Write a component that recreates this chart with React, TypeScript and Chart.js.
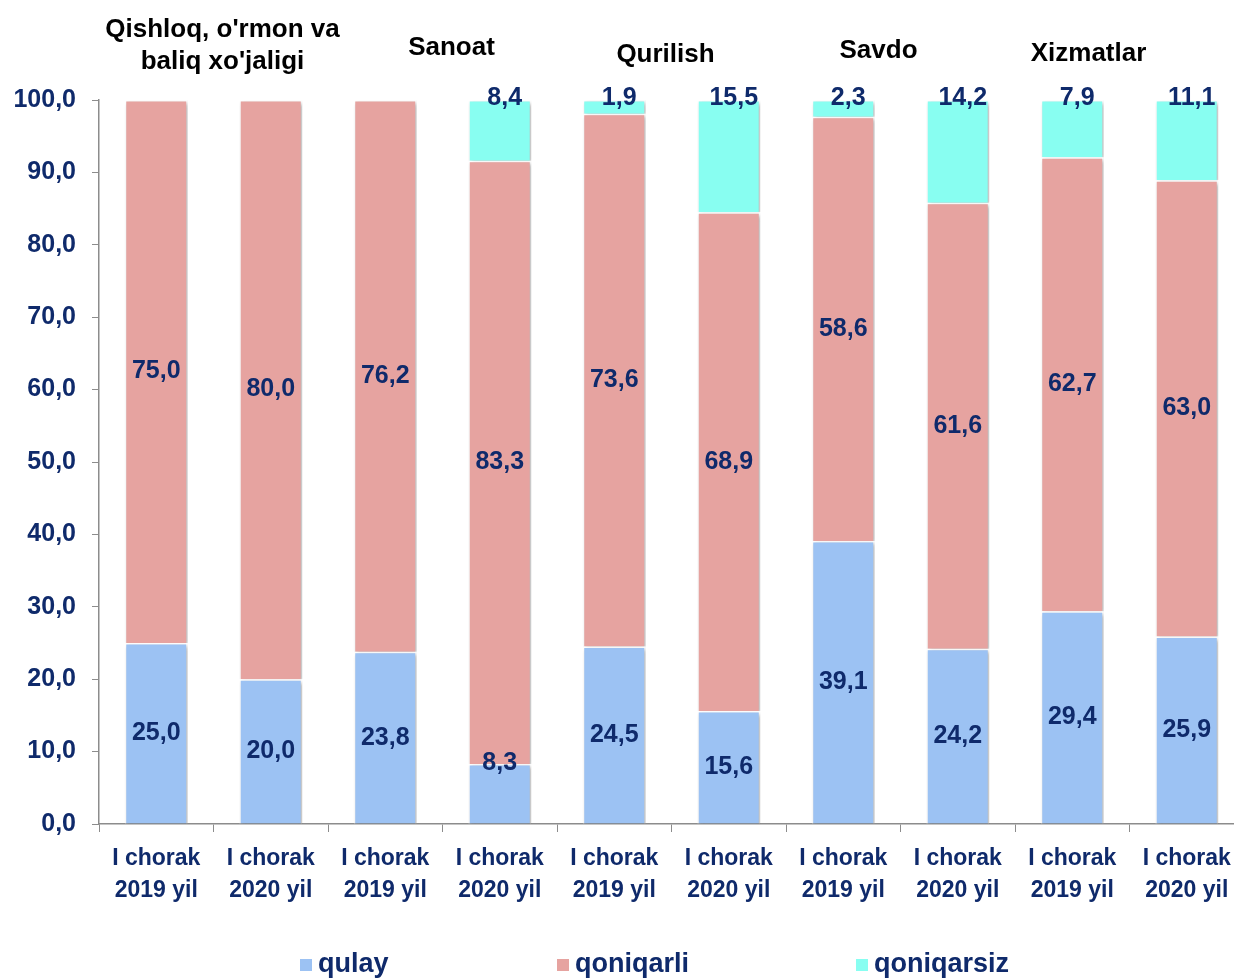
import React, { useEffect, useRef } from "react";
import { Chart, registerables } from "chart.js";

Chart.register(...registerables);

const categories: string[][] = [
  ["I chorak", "2019 yil"], ["I chorak", "2020 yil"],
  ["I chorak", "2019 yil"], ["I chorak", "2020 yil"],
  ["I chorak", "2019 yil"], ["I chorak", "2020 yil"],
  ["I chorak", "2019 yil"], ["I chorak", "2020 yil"],
  ["I chorak", "2019 yil"], ["I chorak", "2020 yil"],
];
const groupTitles: string[][] = [
  ["Qishloq, o'rmon va", "baliq xo'jaligi"],
  ["Sanoat"],
  ["Qurilish"],
  ["Savdo"],
  ["Xizmatlar"],
];
const qulay = [25.0, 20.0, 23.8, 8.3, 24.5, 15.6, 39.1, 24.2, 29.4, 25.9];
const qoniqarli = [75.0, 80.0, 76.2, 83.3, 73.6, 68.9, 58.6, 61.6, 62.7, 63.0];
const qoniqarsiz = [0, 0, 0, 8.4, 1.9, 15.5, 2.3, 14.2, 7.9, 11.1];
const seriesNames = ["qulay", "qoniqarli", "qoniqarsiz"];

const COLORS = ["#9cc2f3", "#e6a3a0", "#88fef1"];
const NAVY = "#0f2a6b";
const FONT = "'Liberation Sans', Arial, sans-serif";

const fmt = (v: number) => v.toFixed(1).replace(".", ",");

// small per-title horizontal nudges (px) to mimic the reference layout
const titleNudge = [9, 9, -6, -22, -41];
const titleY = [[30, 62], [48], [55], [51], [54]];

const overlayPlugin = {
  id: "overlay",
  beforeDatasetsDraw(chart: any) {
    const ctx = chart.ctx;
    ctx.save();
    ctx.shadowColor = "rgba(0,0,0,0.28)";
    ctx.shadowBlur = 4;
    ctx.shadowOffsetX = 2;
    ctx.shadowOffsetY = 2;
  },
  afterDatasetsDraw(chart: any) {
    chart.ctx.restore();
  },
  afterDraw(chart: any) {
    const ctx = chart.ctx;
    const xs = chart.scales.x;
    const ys = chart.scales.y;
    ctx.save();
    ctx.textAlign = "center";
    ctx.textBaseline = "middle";
    ctx.fillStyle = NAVY;
    ctx.font = `bold 25px ${FONT}`;
    // data labels
    chart.data.datasets.forEach((ds: any, di: number) => {
      ds.data.forEach((v: number, i: number) => {
        if (!v) return;
        const x = xs.getPixelForValue(i);
        let base = 0;
        for (let k = 0; k < di; k++) base += chart.data.datasets[k].data[i];
        let y: number;
        if (di === 2) {
          y = ys.getPixelForValue(100) - 2;
          ctx.fillText(fmt(v), x + 5, y);
          return;
        }
        if (di === 0 && v < 10) {
          y = ys.getPixelForValue(base + v) - 1;
        } else {
          y = ys.getPixelForValue(base + v / 2);
        }
        ctx.fillText(fmt(v), x, y);
      });
    });
    // group titles
    ctx.fillStyle = "#000000";
    ctx.font = `bold 26px ${FONT}`;
    groupTitles.forEach((lines, g) => {
      const cx = (xs.getPixelForValue(g * 2) + xs.getPixelForValue(g * 2 + 1)) / 2 + titleNudge[g];
      lines.forEach((ln, li) => ctx.fillText(ln, cx, titleY[g][li]));
    });
    // legend
    const legX = [300, 557, 856];
    ctx.font = `bold 27px ${FONT}`;
    ctx.textAlign = "left";
    seriesNames.forEach((n, i) => {
      ctx.fillStyle = COLORS[i];
      ctx.fillRect(legX[i], 959, 12, 12);
      ctx.fillStyle = NAVY;
      ctx.fillText(n, legX[i] + 18, 965);
    });
    ctx.restore();
  },
};

export default function App() {
  const ref = useRef<HTMLCanvasElement>(null);
  useEffect(() => {
    if (!ref.current) return;
    const data = [qulay, qoniqarli, qoniqarsiz];
    const chart = new Chart(ref.current, {
      type: "bar",
      data: {
        labels: categories,
        datasets: seriesNames.map((n, i) => ({
          label: n,
          data: data[i],
          backgroundColor: COLORS[i],
          borderColor: "#ffffff",
          borderWidth: 1.5,
          categoryPercentage: 0.55,
          barPercentage: 1,
        })),
      },
      options: {
        responsive: false,
        animation: false,
        layout: { padding: { top: 100, right: 0, bottom: 0, left: 0 } },
        plugins: { legend: { display: false }, tooltip: { enabled: false } },
        scales: {
          x: {
            stacked: true,
            border: { color: "#8c8c8c", width: 1.5 },
            grid: { display: true, drawOnChartArea: false, drawTicks: true, tickLength: 8, color: "#8c8c8c", offset: true },
            ticks: {
              color: NAVY,
              font: { family: FONT, size: 23, weight: "bold", lineHeight: 1.39 },
              padding: 11,
              maxRotation: 0,
              autoSkip: false,
            },
            afterFit(s: any) { s.height = 155; },
          },
          y: {
            stacked: true,
            min: 0,
            max: 100,
            border: { color: "#8c8c8c", width: 1.5 },
            grid: { display: true, drawOnChartArea: false, drawTicks: true, tickLength: 7, color: "#8c8c8c" },
            ticks: {
              stepSize: 10,
              color: NAVY,
              font: { family: FONT, size: 25, weight: "bold" },
              padding: 16,
              callback: (v: any) => fmt(Number(v)),
            },
            afterFit(s: any) { s.width = 99; },
          },
        },
      },
      plugins: [overlayPlugin],
    });
    return () => chart.destroy();
  }, []);
  return (
    <div style={{ position: "fixed", left: 0, top: 0, width: 1244, height: 979, background: "#fff" }}>
      <canvas ref={ref} width={1244} height={979} style={{ width: 1244, height: 979 }} />
    </div>
  );
}
